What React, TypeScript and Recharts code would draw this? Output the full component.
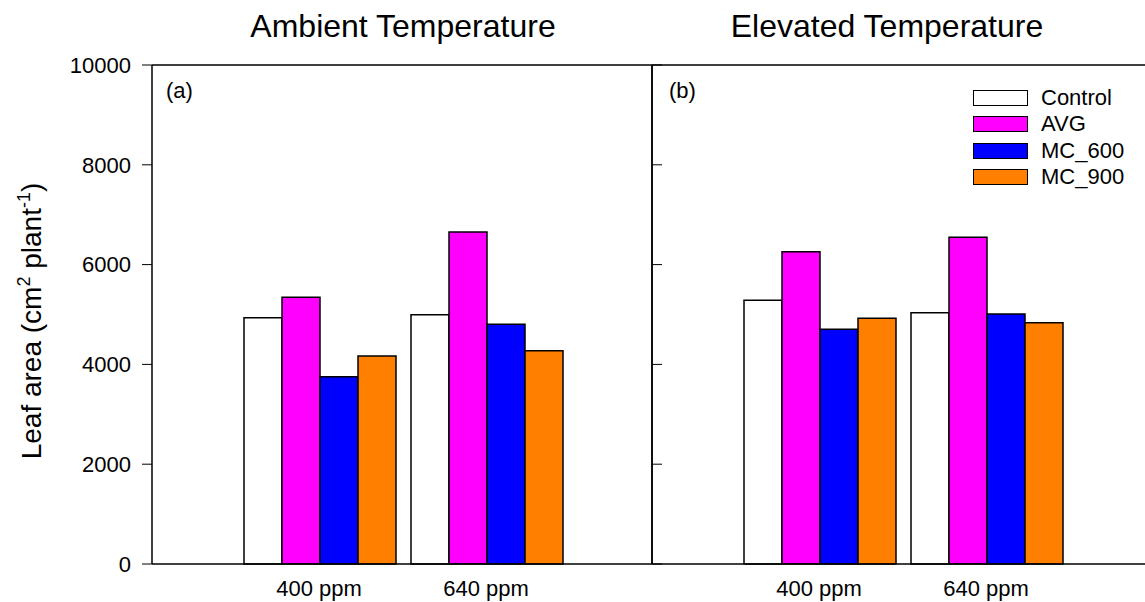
import React from 'react';
import { BarChart, Bar, XAxis, YAxis, ReferenceLine, Legend } from 'recharts';

const categories = ['400 ppm', '640 ppm'];
const yTicks = [0, 2000, 4000, 6000, 8000, 10000];

const ambientControl = [4936, 4996];
const ambientAvg = [5344, 6653];
const ambientMc600 = [3754, 4803];
const ambientMc900 = [4168, 4275];

const elevatedControl = [5285, 5036];
const elevatedAvg = [6259, 6550];
const elevatedMc600 = [4703, 5010];
const elevatedMc900 = [4924, 4836];

const seriesNames = ['Control', 'AVG', 'MC_600', 'MC_900'];
const seriesColors = ['#ffffff', '#ff00ff', '#0000ff', '#ff8000'];

const FONT = '"Liberation Sans", Arial, sans-serif';

function buildRows(values: number[][]) {
  return categories.map((c, i) => {
    const row: Record<string, string | number> = { category: c };
    seriesNames.forEach((s, k) => (row[s] = values[k][i]));
    return row;
  });
}

const ambientRows = buildRows([ambientControl, ambientAvg, ambientMc600, ambientMc900]);
const elevatedRows = buildRows([elevatedControl, elevatedAvg, elevatedMc600, elevatedMc900]);

function YLabel() {
  return (
    <text x={41} y={321} transform="rotate(-90 41 321)" textAnchor="middle" fontSize={28} fill="#000" fontFamily={FONT}>
      Leaf area (cm
      <tspan dy={-11} fontSize={18}>2</tspan>
      <tspan dy={11}> plant</tspan>
      <tspan dy={-11} fontSize={18}>-1</tspan>
      <tspan dy={11}>)</tspan>
    </text>
  );
}

// tick marks only, no tick text
const NoTick = () => <g />;

function LegendBox({ payload }: any) {
  const items = [...(payload || [])].sort((a: any, b: any) => seriesNames.indexOf(a.value) - seriesNames.indexOf(b.value));
  return (
    <div style={{ fontFamily: FONT, fontSize: 22, color: '#000' }}>
      {items.map((p: any) => (
        <div key={p.value} style={{ display: 'flex', alignItems: 'center', height: 26.3 }}>
          <span style={{ display: 'inline-block', width: 53, height: 14, background: p.color, border: '1.5px solid #000', marginRight: 13 }} />
          <span style={{ lineHeight: '26px' }}>{p.value}</span>
        </div>
      ))}
    </div>
  );
}

const bars = () =>
  seriesNames.map((s, k) => (
    <Bar key={s} dataKey={s} name={s} fill={seriesColors[k]} stroke="#000" strokeWidth={1.5} isAnimationActive={false} legendType="rect" />
  ));

const xAxisProps = {
  dataKey: 'category',
  padding: { left: 83.5, right: 82.5 },
  tickLine: false,
  tickMargin: 10,
  axisLine: { stroke: '#000', strokeWidth: 1.5 },
  tick: { fill: '#000', fontSize: 22, fontFamily: FONT },
};

const sideAxis = {
  domain: [0, 10000],
  ticks: yTicks,
  tick: <NoTick />,
  axisLine: { stroke: '#000', strokeWidth: 1.5 },
  tickLine: { stroke: '#000', strokeWidth: 1 },
};

function Panel({ rows, label, left, width, margin, legend, children }: any) {
  return (
    <div style={{ position: 'absolute', left, top: 0 }}>
      <BarChart width={width} height={602} data={rows} margin={margin} barGap={0} barCategoryGap={8.5}>
        <XAxis {...xAxisProps} />
        {children}
        <ReferenceLine y={10000} stroke="#000" strokeWidth={1.5} />
        {bars()}
        {legend && (
          <Legend
            layout="vertical"
            align="center"
            verticalAlign="middle"
            content={<LegendBox />}
            wrapperStyle={{ left: 973 - left, top: 85, width: 'auto', height: 'auto' }}
          />
        )}
      </BarChart>
      <div style={{ position: 'absolute', left: (left === 0 ? 166 : 669) - left, top: 78, fontFamily: FONT, fontSize: 22 }}>{label}</div>
    </div>
  );
}

export default function App() {
  const titleStyle: React.CSSProperties = { position: 'absolute', top: 10, transform: 'translateX(-50%)', fontSize: 32, lineHeight: '32px', whiteSpace: 'nowrap' };
  return (
    <div style={{ position: 'absolute', left: 0, top: 0, width: 1145, height: 602, overflow: 'hidden', background: '#fff', fontFamily: FONT }}>
      <div style={{ ...titleStyle, left: 403 }}>Ambient Temperature</div>
      <div style={{ ...titleStyle, left: 887 }}>Elevated Temperature</div>
      <Panel rows={ambientRows} label="(a)" left={0} width={660} margin={{ top: 65, right: 8, left: 92, bottom: 8 }}>
        <YAxis
          domain={[0, 10000]}
          ticks={yTicks}
          width={60}
          tickSize={10}
          tickMargin={11}
          axisLine={{ stroke: '#000', strokeWidth: 1.5 }}
          tickLine={{ stroke: '#000' }}
          tick={{ fill: '#000', fontSize: 22, fontFamily: FONT }}
          label={<YLabel />}
        />
        <YAxis yAxisId="r" orientation="right" mirror tickSize={9} {...sideAxis} />
      </Panel>
      <Panel rows={elevatedRows} label="(b)" left={560} width={600} margin={{ top: 65, right: 8, left: 92, bottom: 8 }} legend>
        <YAxis mirror tickSize={10} {...sideAxis} />
        <YAxis yAxisId="r" orientation="right" mirror tickSize={9} {...sideAxis} />
      </Panel>
    </div>
  );
}
